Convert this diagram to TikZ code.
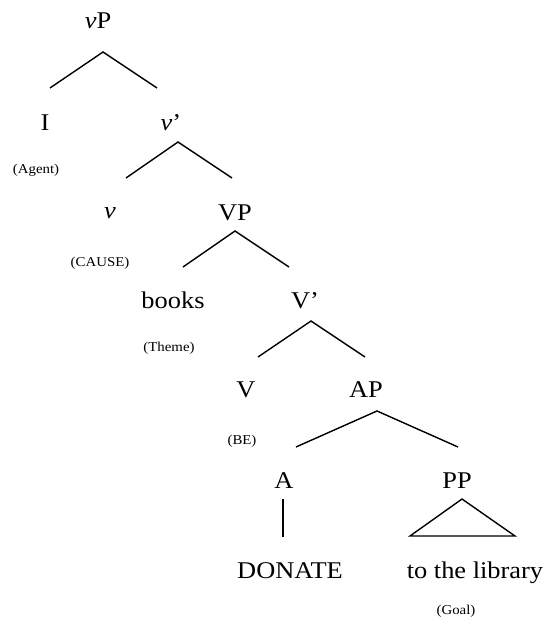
\documentclass[tikz,border=0pt]{standalone}
\usepackage{fontspec}
\setmainfont{Liberation Serif}[FakeStretch=1.1]
\usetikzlibrary{positioning}

\begin{document}
\begin{tikzpicture}[
    x=1pt, y=-1pt,
    % ====================
    % ESTILOS
    % ====================
    cat/.style={
        anchor=base, inner sep=0pt,
        font=\fontsize{24}{26}\selectfont
    },
    role/.style={
        anchor=base, inner sep=0pt,
        font=\fontsize{13.5}{15}\selectfont
    },
    branch/.style={
        line width=1.4pt, draw=black
    }
]

% Marco de la imagen
\useasboundingbox (0,0) rectangle (544,621);

% ====================
% NODOS (categorías y papeles)
% ====================
\node[cat] (vP) at (98,28) {\textit{v}P};

\node[cat] (I) at (45,130) {I};
\node[cat] (v1) at (171,130) {\textit{v}'};
\node[role] (agent) at (36,173) {(Agent)};

\node[cat] (v) at (110,218) {\textit{v}};
\node[cat] (VP) at (235,220) {VP};
\node[role] (cause) at (100,266) {(CAUSE)};

\node[cat] (books) at (173,308) {books};
\node[cat] (V1) at (305,308) {V'};
\node[role] (theme) at (169,351) {(Theme)};

\node[cat] (V) at (246,397) {V};
\node[cat] (AP) at (366,397) {AP};
\node[role] (be) at (242,444) {(BE)};

\node[cat] (A) at (284,488) {A};
\node[cat] (PP) at (457,488) {PP};

\node[cat] (donate) at (290,578) {DONATE};
\node[cat] (library) at (475,578) {to the library};
\node[role] (goal) at (456,614) {(Goal)};

% ====================
% PUNTOS DE LAS RAMAS
% ====================
\coordinate (vP-b) at (103,52);
\coordinate (I-t) at (50,88);
\coordinate (v1-t) at (157,88);

\coordinate (v1-b) at (178,142);
\coordinate (v-t) at (126,178);
\coordinate (VP-t) at (232,178);

\coordinate (VP-b) at (235,231);
\coordinate (books-t) at (183,267);
\coordinate (V1-t) at (289,267);

\coordinate (V1-b) at (311,321);
\coordinate (V-t) at (258,357);
\coordinate (AP-t) at (365,357);

\coordinate (AP-b) at (377,411);
\coordinate (A-t) at (296,447);
\coordinate (PP-t) at (458,447);

\coordinate (A-b) at (283,499);
\coordinate (donate-t) at (283,537);

\coordinate (PP-b) at (462,499);
\coordinate (library-l) at (410,536);
\coordinate (library-r) at (515,536);

% ====================
% RAMAS
% ====================
\draw[branch] (I-t) -- (vP-b) -- (v1-t);
\draw[branch] (v-t) -- (v1-b) -- (VP-t);
\draw[branch] (books-t) -- (VP-b) -- (V1-t);
\draw[branch] (V-t) -- (V1-b) -- (AP-t);
\draw[branch] (A-t) -- (AP-b) -- (PP-t);
\draw[branch] (A-b) -- (donate-t);

% Triángulo del PP
\draw[branch] (PP-b) -- (library-r) -- (library-l) -- cycle;

\end{tikzpicture}
\end{document}
